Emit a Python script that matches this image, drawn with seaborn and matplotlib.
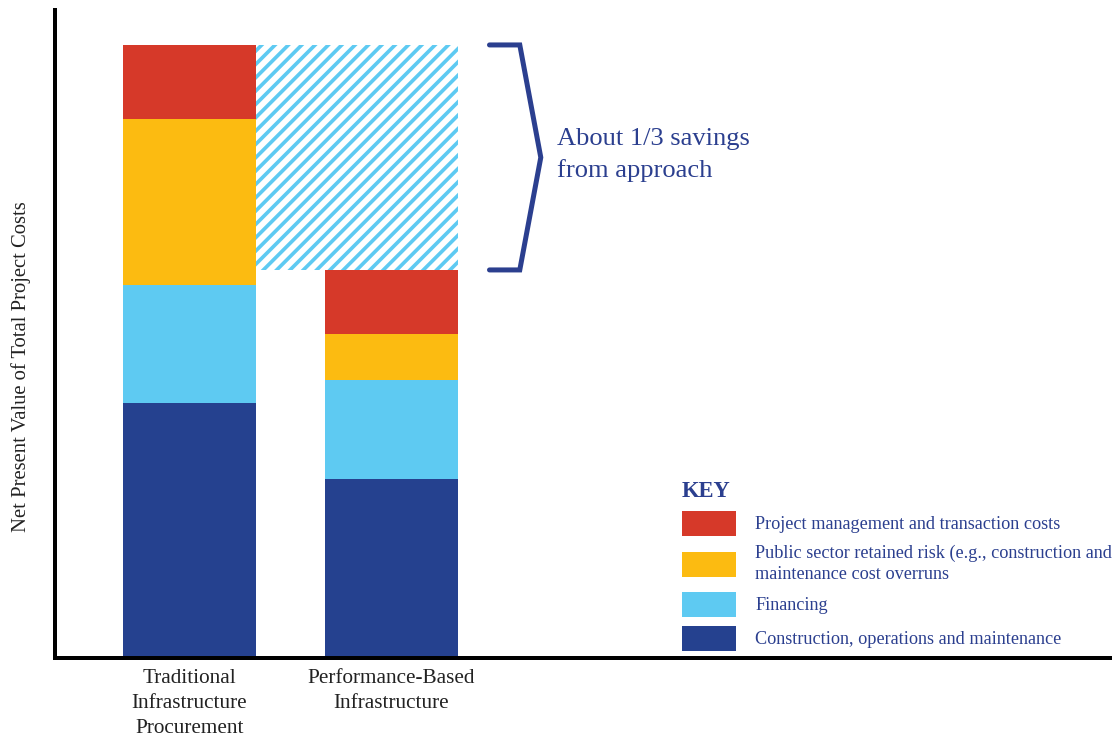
import matplotlib
matplotlib.use("Agg")
import matplotlib.pyplot as plt
from matplotlib.patches import Patch
import seaborn as sns
import numpy as np

# ---- data (net present value, traditional total = 100) ----
categories = ["Traditional\nInfrastructure\nProcurement", "Performance-Based\nInfrastructure"]
construction = [41.6, 29.2]
financing = [19.2, 16.2]
retained_risk = [27.2, 7.5]
project_mgmt = [12.0, 10.4]
series_labels = ["Project management and transaction costs",
                 "Public sector retained risk (e.g., construction and\nmaintenance cost overruns",
                 "Financing",
                 "Construction, operations and maintenance"]
savings_text = "About 1/3 savings\nfrom approach"

RED = "#d63929"
YELLOW = "#fcbb11"
LBLUE = "#5ecaf2"
NAVY = "#25418f"
TXT = "#2b3f8f"

DPI = 120
def P(px):
    return px * 72.0 / DPI

sns.set_theme(style="white")
plt.rcParams["font.family"] = ["Liberation Serif", "DejaVu Serif"]
plt.rcParams["hatch.linewidth"] = 2.2

fig = plt.figure(figsize=(1119 / DPI, 736 / DPI), dpi=DPI)
ax = fig.add_axes([55 / 1119, 78 / 736, 1055 / 1119, 648 / 736])

layers = [construction, financing, retained_risk, project_mgmt]
colors = [NAVY, LBLUE, YELLOW, RED]
cum = np.cumsum(np.array(layers), axis=0)
W = 0.66
# draw from tallest cumulative layer down so stacks appear
for i in range(len(layers) - 1, -1, -1):
    sns.barplot(x=categories, y=cum[i], color=colors[i], width=W,
                linewidth=0, saturation=1, ax=ax)

total1 = cum[-1][0]
total2 = cum[-1][1]
# hatched savings region spanning from bar1 right edge to bar2 right edge
ax.bar([0.5 + W / 2], [total1 - total2], bottom=[total2], width=1.0,
       facecolor="white", edgecolor=LBLUE, hatch="///", linewidth=0)

ax.set_xlim(-0.666, 4.557)
ax.set_ylim(0, 105.7)
ax.set_yticks([])
ax.tick_params(axis="x", length=0, pad=P(11), labelsize=P(21.3), colors="#222222")
for lab in ax.get_xticklabels():
    lab.set_linespacing(1.42)
ax.set_xlabel("")
ax.set_ylabel("Net Present Value of Total Project Costs", fontsize=P(20.7),
              color="#222222")
ax.yaxis.set_label_coords(-0.0225, 0.45)
for s in ["top", "right"]:
    ax.spines[s].set_visible(False)
for s in ["left", "bottom"]:
    ax.spines[s].set_linewidth(P(4))
    ax.spines[s].set_color("black")

# brace
bx0 = 1 + W / 2 + 0.155
bx1 = bx0 + 0.15
bx2 = bx1 + 0.104
mid = (total1 + total2) / 2
ax.plot([bx0, bx1, bx2, bx1, bx0], [total1, total1, mid, total2, total2],
        color=TXT, lw=P(5), solid_joinstyle="miter", clip_on=False)
ax.text(bx2 + 0.08, mid + 0.4, savings_text, fontsize=P(26.5), color=TXT,
        va="center", ha="left", linespacing=1.5)

handles = [Patch(facecolor=c, edgecolor="none") for c in [RED, YELLOW, LBLUE, NAVY]]
leg = fig.legend(handles, series_labels, loc="upper left",
                 bbox_to_anchor=(682 / 1119, 1 - 481 / 736),
                 bbox_transform=fig.transFigure, frameon=False,
                 fontsize=P(18.3), handlelength=2.95, handleheight=1.7,
                 handletextpad=1.05, labelspacing=0.5, borderpad=0,
                 borderaxespad=0, title="KEY", alignment="left",
                 labelcolor=TXT)
leg.get_title().set_fontsize(P(22.5))
leg.get_title().set_fontweight("bold")
leg.get_title().set_color(TXT)
for t in leg.get_texts():
    t.set_linespacing(1.27)

fig.savefig("out.png", dpi=DPI)
